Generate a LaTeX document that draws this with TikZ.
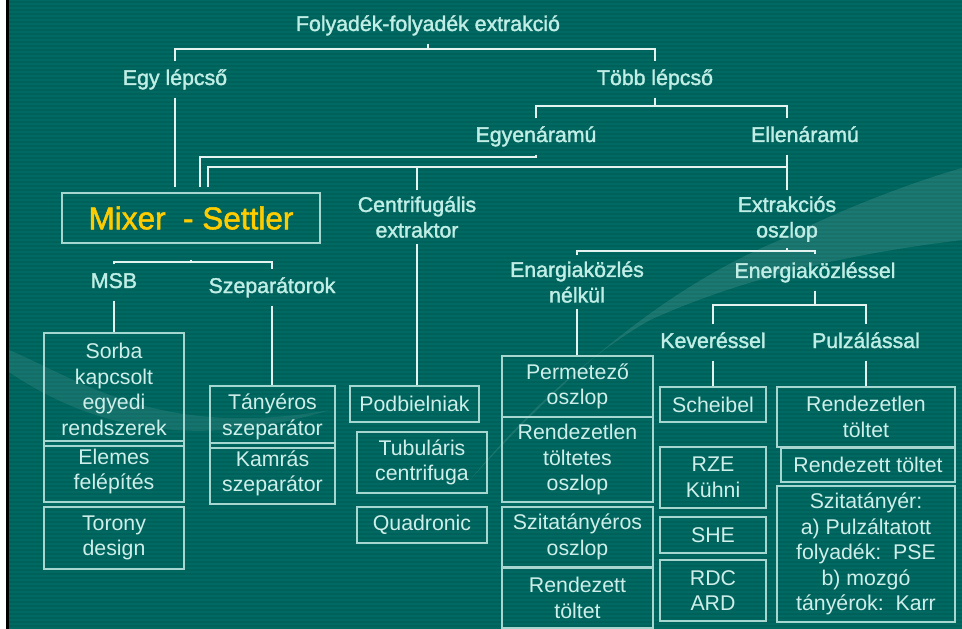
\documentclass[tikz,border=0pt]{standalone}
\usepackage{fontspec}
\setmainfont{Liberation Sans}
\newfontfamily\lblfont{Liberation Sans}[FakeBold=1.6]
\definecolor{slide}{RGB}{0,106,98}
\definecolor{stripe}{RGB}{0,97,90}
\definecolor{lbltxt}{RGB}{192,238,230}
\definecolor{boxtxt}{RGB}{206,238,234}
\definecolor{linec}{RGB}{228,242,240}
\definecolor{boxline}{RGB}{165,214,208}
\definecolor{mixtxt}{RGB}{255,204,0}
\begin{document}
\begin{tikzpicture}[x=1bp, y=-1bp,
    lbl/.style = {text=lbltxt, font=\fontsize{21.3bp}{25.5bp}\lblfont, inner xsep=0pt, inner ysep=8.5bp, text height=15bp, text depth=4bp},
    lbl2/.style = {text=lbltxt, font=\fontsize{21.3bp}{25.5bp}\lblfont, align=center, inner xsep=0pt, inner ysep=6bp},
    box/.style = {draw=boxline, line width=1.2bp, text=boxtxt, font=\fontsize{21.3bp}{25.5bp}\selectfont, align=center, inner sep=0pt},
    conn/.style = {draw=linec, line width=1.2bp}]
        \useasboundingbox (0,0) rectangle (962,629);
        \fill[white] (0,0) rectangle (6,629);
        \fill[black] (6,0) rectangle (9,629);
        \fill[slide] (9,0) rectangle (962,629);
        \foreach \y in {2,6,...,626}
            \draw[stripe, line width=1.6bp] (9,\y) -- (962,\y);
        \fill[white, opacity=0.08] (9,350) .. controls (80,380) and (160,440) .. (330,410)
            .. controls (180,455) and (80,420) .. (9,372) -- cycle;
        \fill[white, opacity=0.1] (470,480) .. controls (560,380) and (660,290) .. (780,240)
            .. controls (850,205) and (920,180) .. (962,168) -- (962,240)
            .. controls (880,250) and (760,270) .. (650,320)
            .. controls (580,360) and (520,420) .. (470,480) -- cycle;
        %
        \node[lbl] (fol) at (428,25.5) {Folyadék-folyadék extrakció};
        \node[lbl] (egy) at (175,79.5) {Egy lépcső};
        \node[lbl] (tobb) at (655,79.5) {Több lépcső};
        \node[lbl] (egyen) at (536,136.5) {Egyenáramú};
        \node[lbl] (ellen) at (805,136.5) {Ellenáramú};
        \node[box, text=mixtxt, font=\fontsize{31.5bp}{36bp}\lblfont, minimum width=258bp, minimum height=50bp] (mix) at (191,218) {Mixer\ \ - Settler};
        \node[lbl2] (cent) at (417,217) {Centrifugális\\extraktor};
        \node[lbl2] (extr) at (787,219) {Extrakciós\\oszlop};
        \node[lbl] (msb) at (114,282.5) {MSB};
        \node[lbl] (szep) at (272,287.5) {Szeparátorok};
        \node[lbl2] (enarg) at (577,282) {Enargiaközlés\\nélkül};
        \node[lbl] (energ) at (815,272.5) {Energiaközléssel};
        \node[lbl] (kev) at (713,342.5) {Keveréssel};
        \node[lbl] (pulz) at (866,342.5) {Pulzálással};
        %
        \node[box, minimum width=140bp, minimum height=113bp] (sorba) at (114,389.5) {Sorba\\kapcsolt\\egyedi\\rendszerek};
        \node[box, minimum width=140bp, minimum height=61bp] (elemes) at (114,471.5) {Elemes\\felépítés};
        \node[box, minimum width=140bp, minimum height=62bp] (torony) at (114,538) {Torony\\design};
        \node[box, minimum width=125bp, minimum height=62bp] (tanyer) at (272.5,417) {Tányéros\\szeparátor};
        \node[box, minimum width=125bp, minimum height=61bp] (kamras) at (272.5,473.5) {Kamrás\\szeparátor};
        \node[box, minimum width=129bp, minimum height=36bp] (podb) at (414.5,404) {Podbielniak};
        \node[box, minimum width=130bp, minimum height=61bp] (tubul) at (422,462.5) {Tubuláris\\centrifuga};
        \node[box, minimum width=130bp, minimum height=36bp] (quadr) at (422,525) {Quadronic};
        \node[box, minimum width=151bp, minimum height=61bp] (perm) at (577.5,386.5) {Permetező\\oszlop};
        \node[box, minimum width=151bp, minimum height=85bp] (rendtol) at (577.5,459.5) {Rendezetlen\\töltetes\\oszlop};
        \node[box, minimum width=151bp, minimum height=60bp] (szita) at (577.5,537) {Szitatányéros\\oszlop};
        \node[box, minimum width=151bp, minimum height=60bp] (rendt) at (577.5,598) {Rendezett\\töltet};
        \node[box, minimum width=106bp, minimum height=35bp] (scheib) at (713,404.5) {Scheibel};
        \node[box, minimum width=106bp, minimum height=61bp] (rze) at (713,477.5) {RZE\\Kühni};
        \node[box, minimum width=106bp, minimum height=36bp] (she) at (713,535) {SHE};
        \node[box, minimum width=106bp, minimum height=61bp] (rdc) at (713,590.5) {RDC\\ARD};
        \node[box, minimum width=178bp, minimum height=60bp] (rtol) at (866,417) {Rendezetlen\\töltet};
        \node[box, minimum width=174bp, minimum height=34bp] (rendtolt) at (868,465) {Rendezett töltet};
        \node[box, minimum width=178bp, minimum height=136bp] (szitat) at (866,554) {Szitatányér:\\a) Pulzáltatott\\folyadék:\ \ PSE\\b) mozgó\\tányérok:\ \ Karr};
        %
        \coordinate (b1) at (428,49);
        \coordinate (b2) at (655,106);
        \coordinate (b3) at (200,157);
        \coordinate (m1) at (200,187);
        \coordinate (m2) at (208,187);
        \coordinate (b4) at (787,167);
        \coordinate (b5) at (191,262);
        \coordinate (b6) at (787,251);
        \coordinate (b7) at (815,305);
        %
        \draw[conn] (fol.south) -- (b1);
        \draw[conn] (egy.north) |- (b1) -| (tobb.north);
        \draw[conn] (tobb.south) -- (b2);
        \draw[conn] (egyen.north) |- (b2) -| (extr.north |- ellen.north);
        \draw[conn] (egy.south) -- (egy.south |- m1);
        \draw[conn] (egyen.south) |- (b3) -- (m1);
        \draw[conn] (extr.north |- ellen.south) -- (extr.north);
        \draw[conn] (m2) |- (b4);
        \draw[conn] (cent.north) -- (cent.north |- b4);
        \draw[conn, shorten <=16bp] (mix.south) -- (b5);
        \draw[conn] (msb.north) |- (b5) -| (szep.north);
        \draw[conn] (msb.south) -- (msb.south |- sorba.north);
        \draw[conn] (szep.south) -- (szep.south |- tanyer.north);
        \draw[conn] (cent.south) -- (cent.south |- podb.north);
        \draw[conn] (extr.south) -- (b6);
        \draw[conn] (enarg.north) |- (b6) -| (energ.north);
        \draw[conn] (enarg.south) -- (enarg.south |- perm.north);
        \draw[conn] (energ.south) -- (b7);
        \draw[conn] (kev.north) |- (b7) -| (pulz.north);
        \draw[conn] (kev.south) -- (kev.south |- scheib.north);
        \draw[conn] (pulz.south) -- (pulz.south |- rtol.north);
\end{tikzpicture}
\end{document}
